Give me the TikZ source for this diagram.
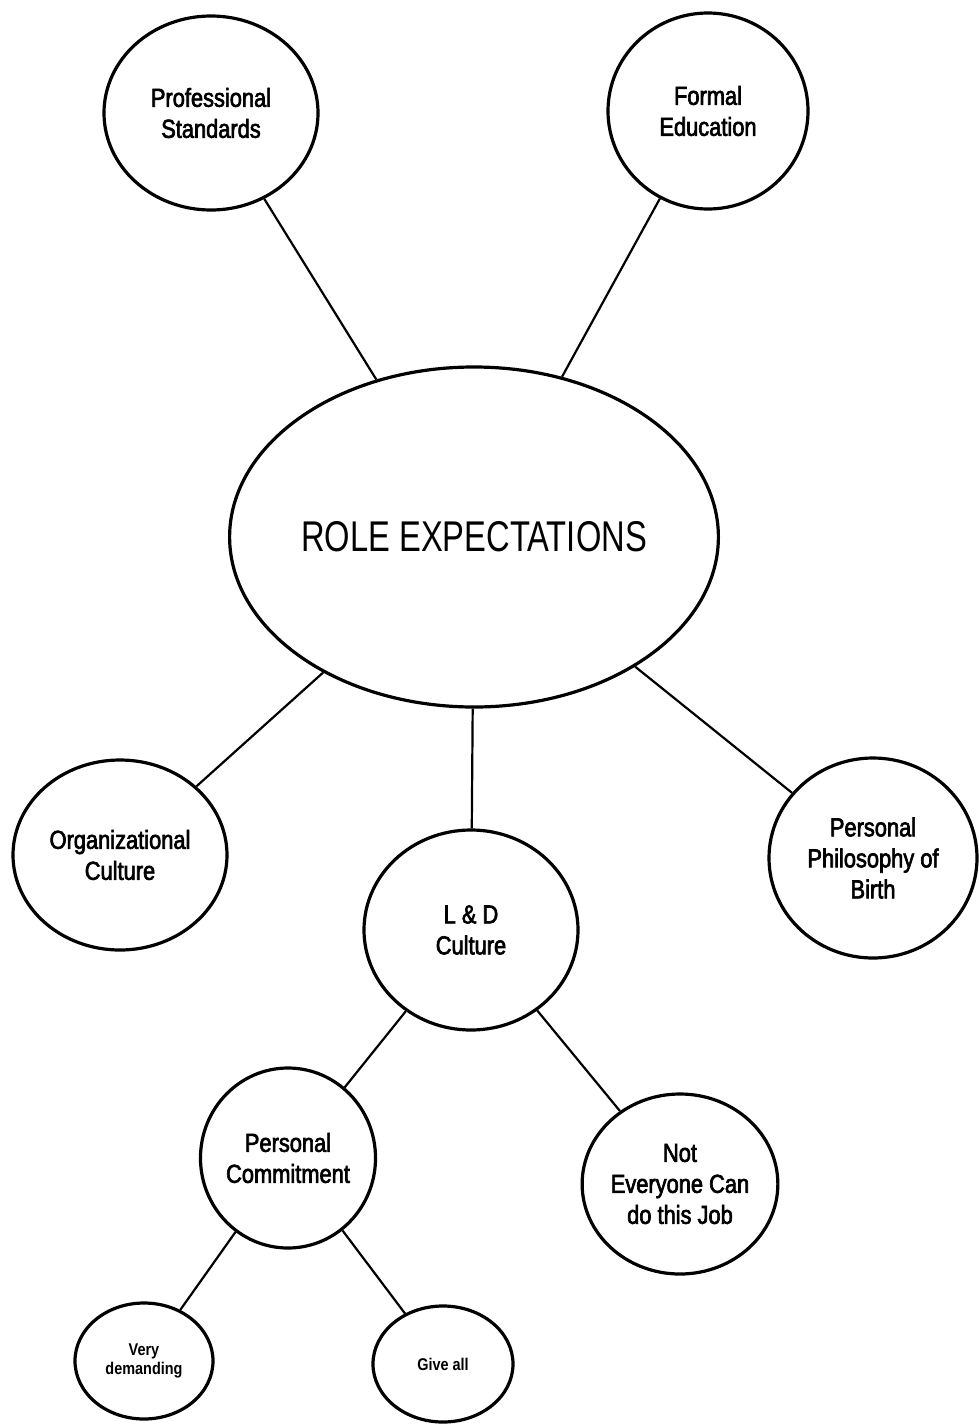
\documentclass[tikz,border=0pt]{standalone}
\usepackage{fontspec}
\usetikzlibrary{shapes.geometric}
\newfontfamily\bubblefont[FakeStretch=0.84,FakeBold=2.5]{Liberation Sans}
\newfontfamily\tinyfont[FakeStretch=0.85]{Liberation Sans Bold}
\newfontfamily\hubfont[FakeStretch=0.76]{Liberation Sans}
\tikzset{
  bubble/.style={draw, ellipse, line width=3.2pt, inner sep=0pt, align=center,
    font=\bubblefont\fontsize{26}{31}\selectfont},
  hub/.style={draw, ellipse, line width=3.2pt, inner sep=0pt, align=center,
    font=\hubfont\fontsize{43}{50}\selectfont},
  tiny/.style={bubble, font=\tinyfont\fontsize{17}{19}\selectfont},
  link/.style={line width=2.2pt}
}
\begin{document}
\begin{tikzpicture}[x=1pt, y=-1pt]
  \useasboundingbox (0,0) rectangle (978,1424);
  \node[hub, minimum width=476pt, minimum height=340pt] (role) at (474,537) {ROLE EXPECTATIONS};
  \node[bubble, minimum width=214pt, minimum height=194pt] (prof) at (211,113) {Professional\\Standards};
  \node[bubble, minimum width=200pt, minimum height=196pt] (formal) at (708,111) {Formal\\Education};
  \node[bubble, minimum width=214pt, minimum height=190pt] (org) at (120,855) {Organizational\\Culture};
  \node[bubble, minimum width=214pt, minimum height=200pt] (ld) at (471,930) {L \& D\\Culture};
  \node[bubble, minimum width=208pt, minimum height=200pt] (phil) at (873,858) {Personal\\Philosophy of\\Birth};
  \node[bubble, minimum width=162pt, minimum height=180pt] (commit) at (288,1158) {Personal\\Commitment};
  \node[bubble, minimum width=192pt, minimum height=180pt] (noteveryone) at (680,1184) {Not\\Everyone Can\\do this Job};
  \node[tiny, minimum width=138pt, minimum height=116pt] (demanding) at (144,1361) {Very\\demanding};
  \node[tiny, minimum width=140pt, minimum height=116pt] (giveall) at (443,1364) {Give all};

  \draw[link] (prof) -- (role);
  \draw[link] (formal) -- (role);
  \draw[link] (role) -- (org);
  \draw[link] (role) -- (ld);
  \draw[link] (role) -- (phil);
  \draw[link] (ld) -- (commit);
  \draw[link] (ld) -- (noteveryone);
  \draw[link] (commit) -- (demanding);
  \draw[link] (commit) -- (giveall);
\end{tikzpicture}
\end{document}
